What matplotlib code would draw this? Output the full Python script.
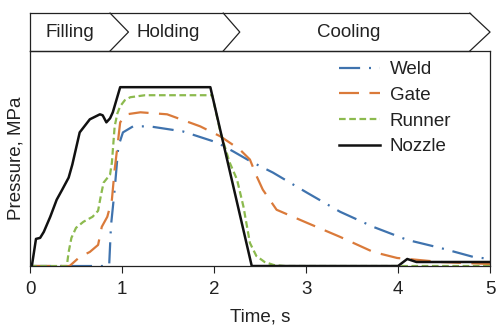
import matplotlib
matplotlib.use("Agg")
import matplotlib.pyplot as plt

plt.rcParams['font.family'] = ['Liberation Sans', 'DejaVu Sans']

# ---- data (pressure in arbitrary MPa-scale units) ----
nozzle_t = [0.0, 0.02, 0.065, 0.11, 0.15, 0.22, 0.29, 0.35, 0.42, 0.46, 0.54, 0.65, 0.76, 0.79, 0.83, 0.87, 0.90, 0.98,
            1.96, 2.41, 4.0, 4.1, 4.2, 5.0]
nozzle_p = [0, 0, 27, 28, 34, 49, 66, 76, 88, 101, 133, 146, 151, 150, 143, 147, 153, 178,
            178, 0, 0, 7, 4, 4]

runner_t = [0.0, 0.40, 0.42, 0.45, 0.50, 0.58, 0.68, 0.74, 0.77, 0.80, 0.87, 0.89, 0.92, 0.95, 0.98, 1.03, 1.09, 1.25, 1.98,
            2.07, 2.17, 2.25, 2.32, 2.39, 2.46, 2.55, 2.65, 2.77, 5.0]
runner_p = [0, 0, 14, 28, 38, 44, 49, 55, 70, 83, 91, 103, 139, 152, 159, 165, 168, 170, 170,
            133, 103, 86, 59, 23, 10, 4, 1, 0, 0]

gate_t = [0.0, 0.43, 0.54, 0.65, 0.74, 0.78, 0.84, 0.89, 0.92, 0.95, 0.98, 1.05, 1.2, 1.49, 1.85, 2.07, 2.28,
          2.39, 2.46, 2.53, 2.68, 3.01, 3.37, 3.73, 3.99, 4.46, 5.0]
gate_p = [0, 0, 9, 14, 21, 39, 49, 66, 96, 119, 143, 151, 153, 151, 139, 129, 116,
          106, 90, 76, 56, 43, 29, 14, 8, 4, 2]

weld_t = [0.0, 0.86, 0.88, 0.92, 0.96, 1.01, 1.12, 1.3, 1.66, 2.03, 2.21, 2.4, 2.64, 3.01, 3.37, 3.73, 4.1, 4.46, 4.82, 5.0]
weld_p = [0, 0, 40, 76, 119, 133, 139, 139, 134, 123, 114, 104, 93, 73, 54, 39, 26, 18, 9, 7]

phases = ["Filling", "Holding", "Cooling"]
phase_ends = [0.87, 2.10, 4.78]   # where each chevron begins its point
phase_tips = [1.07, 2.28, 5.0]
phase_label_x = [0.43, 1.50, 3.46]

# ---- figure ----
fig = plt.figure(figsize=(4.96, 3.27), dpi=100)
ax = fig.add_axes([0.0605, 0.1865, 0.9275, 0.6575])
band = fig.add_axes([0.0605, 0.844, 0.9275, 0.116], sharex=ax)

blue = '#3F73AE'
orange = '#DA7A3A'
green = '#8CBA4E'

ax.plot(weld_t, weld_p, color=blue, lw=1.6, dashes=(9.5, 4, 0.9, 4), label='Weld')
ax.plot(gate_t, gate_p, color=orange, lw=1.6, dashes=(9, 4.7), label='Gate')
ax.plot(runner_t, runner_p, color=green, lw=1.6, dashes=(3, 1.6), label='Runner')
ax.plot(nozzle_t, nozzle_p, color='#111111', lw=1.8, label='Nozzle')

ax.set_xlim(0, 5)
ax.set_ylim(0, 214)
ax.set_xticks([0, 1, 2, 3, 4, 5])
ax.set_yticks([])
ax.tick_params(axis='x', direction='out', length=5, width=0.8, labelsize=13.5, colors='#222222', pad=6)
for s in ax.spines.values():
    s.set_linewidth(0.9)
    s.set_color('#222222')
ax.set_xlabel('Time, s', fontsize=13.5, color='#222222', labelpad=7)
ax.set_ylabel('Pressure, MPa', fontsize=13.5, color='#222222', labelpad=4)

leg = ax.legend(loc='upper left', bbox_to_anchor=(0.672, 0.952), frameon=False, fontsize=13.5,
                handlelength=2.2, handletextpad=0.5, labelspacing=0.45, borderaxespad=0.0, borderpad=0.0)
for t in leg.get_texts():
    t.set_color('#222222')

# ---- phase band ----
band.set_ylim(0, 1)
band.axis('off')
ec = '#222222'
lw = 0.9
band.plot([0, phase_ends[-1]], [1, 1], color=ec, lw=lw, clip_on=False)
band.plot([0, phase_ends[-1]], [0, 0], color=ec, lw=lw, clip_on=False)
band.plot([0, 0], [0, 1], color=ec, lw=lw, clip_on=False)
for xe, xt in zip(phase_ends, phase_tips):
    band.plot([xe, xt, xe], [1, 0.5, 0], color=ec, lw=lw, clip_on=False)
for name, xl in zip(phases, phase_label_x):
    band.text(xl, 0.5, name, ha='center', va='center', fontsize=13.5, color='#222222')

fig.savefig('out.png', dpi=100)
